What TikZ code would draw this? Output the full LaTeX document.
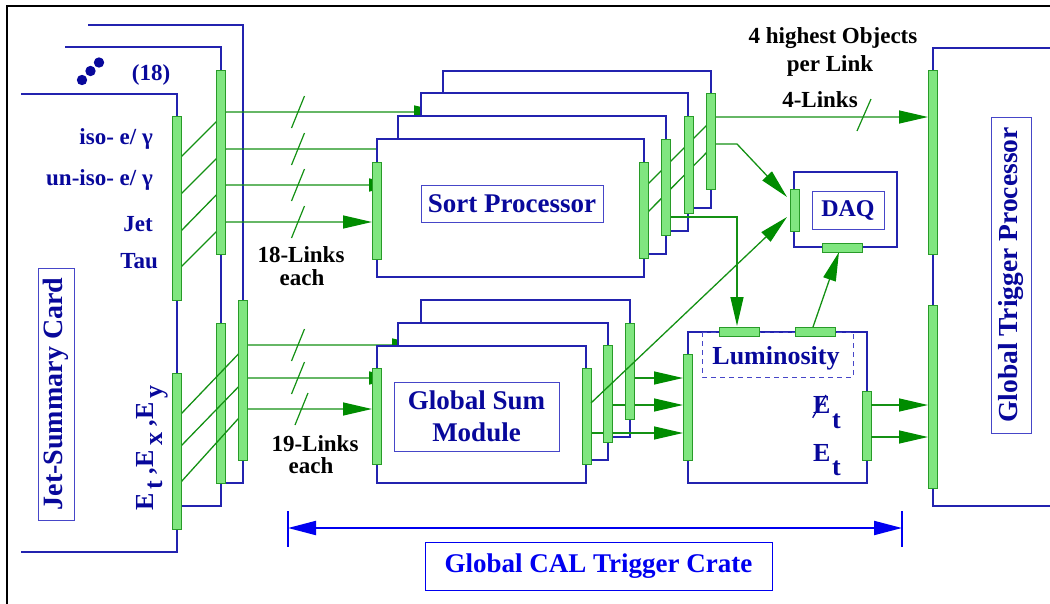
\documentclass[tikz,border=0pt]{standalone}
\usepackage{fontspec}
\setmainfont{Liberation Serif}
\usetikzlibrary{arrows.meta}
\definecolor{lblue}{RGB}{35,35,175}
\definecolor{tblue}{RGB}{8,8,155}
\definecolor{bxblue}{RGB}{70,70,200}
\definecolor{barfill}{RGB}{128,230,128}
\definecolor{bardraw}{RGB}{40,155,40}
\definecolor{gline}{RGB}{20,145,20}
\definecolor{gtip}{RGB}{0,140,0}
\definecolor{brightb}{RGB}{0,0,240}
\newcommand\myfs[2]{\fontsize{#1}{#2}\selectfont\bfseries}
\begin{document}
\begin{tikzpicture}[x=1pt,y=-1pt,
 bl/.style={draw=lblue,line width=1.6pt},
 gl/.style={draw=gline,line width=1.3pt},
 gar/.style={gl,-{Triangle[length=29pt,width=13pt,color=gtip]}},
 vbar/.style={rectangle,draw=bardraw,fill=barfill,line width=1pt,inner sep=0pt,minimum width=9pt},
 hbar/.style={rectangle,draw=bardraw,fill=barfill,line width=1pt,inner sep=0pt,minimum height=9pt},
 crate/.style={bl,fill=white},
 lbox/.style={draw=bxblue,line width=1pt,inner sep=0pt,text=tblue,font=\myfs{27}{32},align=center},
 lbl/.style={inner sep=0pt,text=tblue,font=\myfs{23}{28}},
 blk/.style={inner sep=0pt,text=black,font=\myfs{23}{28}},
 slash/.style={gl,line width=1.2pt}
]
\useasboundingbox (0,0) rectangle (1050,603);
\clip (0,0) rectangle (1050,603);
% frame
\draw[black,line width=1.2pt] (7,620) -- (7,6) -- (1070,6);
% jet summary cards
\draw[bl] (88,25) -- (243,25) -- (243,483) -- (226,483);
\draw[bl] (65,47) -- (221,47) -- (221,506) -- (181,506);
\draw[bl] (21,94) -- (177,94) -- (177,552) -- (21,552);
\foreach \p in {(82,80),(90.5,71),(99,62.5)} \fill[tblue] \p circle (5.2);
\node[lbl,anchor=base] (n18) at (151,80) {(18)};
\node[lbl,anchor=base east] (iso) at (153,144) {iso- e/ γ};
\node[lbl,anchor=base east] (uniso) at (153,185) {un-iso- e/ γ};
\node[lbl,anchor=base east] (jet) at (153,231) {Jet};
\node[lbl,anchor=base east] (tau) at (158,268) {Tau};
\node[lbox,font=\myfs{28}{32},rotate=90,minimum width=252pt,minimum height=36pt] (jsc) at (56,394) {Jet-Summary Card};
\node[inner sep=0pt,text=tblue,font=\myfs{26}{30},rotate=90] (etxy) at (152,448)
  {E\raisebox{-9pt}{\,t} ,E\raisebox{-9pt}{\,x} ,E\raisebox{-9pt}{\,y}};
% card 2 bars (under diagonals)
\node[vbar,minimum height=160pt] (c2b) at (221,403) {};
% links to sort processor
\draw[gar] (181,157) -- (226,112) -- (443,112);
\draw[gar] (181,194) -- (226,149) -- (421,149);
\draw[gar] (181,231) -- (226,185) -- (398,185);
\draw[gar] (181,267) -- (226,222) -- (372,222);
% links to global sum
\draw[gar] (181,414) -- (247,345) -- (421,345);
\draw[gar] (181,446) -- (247,378) -- (398,378);
\draw[gar] (181,482) -- (247,409) -- (372,409);
% slashes
\foreach \y in {112,149,185,222,345,378} \draw[slash] (291.5,\y+16) -- (304.5,\y-16);
\draw[slash] (295,425) -- (308,393);
\node[vbar,minimum height=184pt] (c2a) at (221,162) {};
\node[vbar,minimum height=160pt] (c3) at (243,380) {};
\node[vbar,minimum height=184pt] (c1a) at (176.5,208) {};
\node[vbar,minimum height=156pt] (c1b) at (176.5,451) {};
\node[blk,anchor=base] (l18) at (301,262) {18-Links};
\node[blk,anchor=base] (e18) at (302,285) {each};
\node[blk,anchor=base] (l19) at (315,451) {19-Links};
\node[blk,anchor=base] (e19) at (311,473) {each};
% sort processor crates
\draw[crate] (443,71) rectangle (711,208);
\draw[crate] (421,93) rectangle (688,231);
\draw[crate] (398,116) rectangle (666,254);
\draw[crate] (377,139) rectangle (644,277);
\node[lbox,minimum width=182pt,minimum height=37pt] (sp) at (512,203.5) {Sort Processor};
% global sum crates
\draw[crate] (421,300) rectangle (630,437);
\draw[crate] (398,323) rectangle (608,460);
\draw[crate] (377,346) rectangle (586,483);
\node[lbox,minimum width=165pt,minimum height=69pt] (gs) at (476.5,416.5) {Global Sum\\Module};
% sort processor outputs
\draw[gar] (648,184) -- (715,117) -- (928,117);
\draw[gar] (648,212) -- (715,144) -- (737,144) -- (787,197);
\draw[gar] (670,217) -- (737,217) -- (737,326);
\node[vbar,minimum height=97pt] (spl) at (376.5,210.5) {};
\node[vbar,minimum height=96pt] (sa) at (643.5,210) {};
\node[vbar,minimum height=96pt] (sb) at (666,187) {};
\node[vbar,minimum height=97pt] (sc) at (688.5,164.5) {};
\node[vbar,minimum height=96pt] (sd) at (710.5,141) {};
% global sum outputs
\draw[gar] (635,378) -- (683,378);
\draw[gar] (613,405) -- (683,405);
\draw[gar] (591,433) -- (683,433);
\node[vbar,minimum height=96pt] (gsl) at (376.5,416) {};
\node[vbar,minimum height=96pt] (ga) at (586.5,416) {};
\node[vbar,minimum height=97pt] (gb) at (608,393.5) {};
\node[vbar,minimum height=96pt] (gc) at (630,371) {};
\draw[gar] (591,403) -- (787,217);
% DAQ
\draw[bl] (794,172) rectangle (897,247);
\node[lbox,font=\myfs{24}{28},minimum width=72pt,minimum height=38pt] (daq) at (848,210) {DAQ};
\node[vbar,minimum height=42pt] (daqin) at (794.5,210) {};
% luminosity
\draw[bl,fill=white] (688,332) rectangle (867,483);
\draw[draw=bxblue,line width=1pt,dash pattern=on 5pt off 4pt] (702,332) rectangle (853,377);
\node[lbl,font=\myfs{26}{30},anchor=base] (lum) at (776,364) {Luminosity};
\draw[gar] (813,327) -- (839,252);
\node[hbar,minimum width=40pt] (daqout) at (842,247.5) {};
\node[hbar,minimum width=40pt] (lin1) at (739,331.5) {};
\node[hbar,minimum width=40pt] (lin2) at (815,331.5) {};
\node[vbar,minimum height=106pt] (lumin) at (688,407) {};
\node[vbar,minimum height=69pt] (lumout) at (866.5,425.5) {};
\node[lbl,font=\myfs{26}{30},anchor=base west] (e1) at (813,413) {E};
\node[lbl,font=\myfs{26}{30},anchor=base west] (t1) at (832,428) {t};
\draw[draw=tblue,line width=1.3pt] (812.7,417.7) -- (826,395);
\node[lbl,font=\myfs{26}{30},anchor=base west] (e2) at (813,461) {E};
\node[lbl,font=\myfs{26}{30},anchor=base west] (t2) at (832,475) {t};
\draw[gar] (871,405) -- (928,405);
\draw[gar] (871,437) -- (928,437);
% global trigger processor
\draw[bl] (1070,48) -- (933,48) -- (933,506) -- (1070,506);
\node[vbar,minimum height=184pt] (gtp1) at (932.5,162) {};
\node[vbar,minimum height=183pt] (gtp2) at (932.5,396.5) {};
\node[lbox,font=\myfs{27.5}{32},rotate=90,minimum width=316pt,minimum height=40pt] (gtp) at (1011,275) {Global Trigger Processor};
\node[blk,anchor=base] (t4h) at (833,43) {4 highest Objects};
\node[blk,anchor=base] (tpl) at (830,71) {per Link};
\node[blk,anchor=base] (t4l) at (820,107) {4-Links};
\draw[slash] (857,131) -- (871,99);
% crate extent
\coordinate (cl) at (288,528);
\coordinate (cr) at (902,528);
\draw[draw=brightb,line width=2.2pt] (288,511) -- (288,547) (902,511) -- (902,547);
\draw[draw=brightb,line width=2pt,{Triangle[length=28pt,width=14pt]}-{Triangle[length=28pt,width=14pt]}] (cl) -- (cr);
\node[lbox,draw=brightb,text=brightb,minimum width=347pt,minimum height=48pt] (gct) at (598.5,566) {Global CAL Trigger Crate};
\end{tikzpicture}
\end{document}
